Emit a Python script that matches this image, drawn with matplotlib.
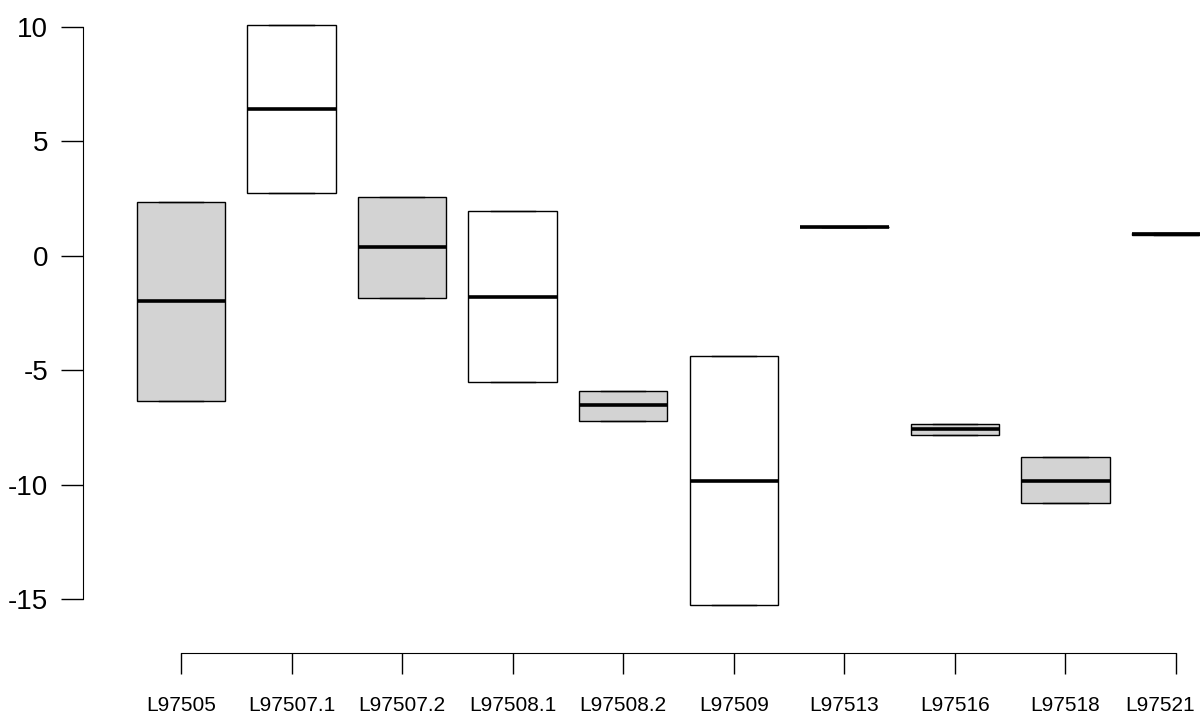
import matplotlib.pyplot as plt
import matplotlib.transforms as mtransforms

plt.rcParams['font.family'] = ['Liberation Sans', 'DejaVu Sans']

names = ['L97505', 'L97507.1', 'L97507.2', 'L97508.1', 'L97508.2',
         'L97509', 'L97513', 'L97516', 'L97518', 'L97521']
q1 = [-6.33, 2.75, -1.83, -5.50, -7.20, -15.24, 1.27, -7.82, -10.79, 0.92]
med = [-1.97, 6.42, 0.39, -1.79, -6.50, -9.83, 1.27, -7.55, -9.81, 0.97]
q3 = [2.36, 10.09, 2.58, 1.97, -5.90, -4.37, 1.27, -7.34, -8.79, 1.02]
fills = ['lightgray', 'white', 'lightgray', 'white', 'lightgray',
         'white', 'lightgray', 'lightgray', 'lightgray', 'lightgray']

stats = []
for i in range(len(names)):
    stats.append(dict(med=med[i], q1=q1[i], q3=q3[i],
                      whislo=q1[i], whishi=q3[i], fliers=[]))

fig = plt.figure(figsize=(12, 7.13), dpi=100)
ax = fig.add_axes([83 / 1200, 1 - 653 / 713, 1 - 83 / 1200, (653 - 2) / 713])

bp = ax.bxp(stats, positions=range(1, 11), widths=0.8, capwidths=0.4,
            patch_artist=True, showfliers=False,
            boxprops=dict(edgecolor='black', linewidth=1.0),
            medianprops=dict(color='black', linewidth=2.6, solid_capstyle='butt'),
            whiskerprops=dict(color='black', linewidth=1.0, linestyle='--'),
            capprops=dict(color='black', linewidth=1.0))
for patch, c in zip(bp['boxes'], fills):
    patch.set_facecolor(c)

ax.set_xlim(0.114, 10.217)
ax.set_ylim(-17.34, 11.09)
ax.set_xticks(range(1, 11))
ax.set_xticklabels(names, fontsize=15)
ax.set_yticks([-15, -10, -5, 0, 5, 10])
ax.set_yticklabels(['-15', '-10', '-5', '0', '5', '10'], fontsize=20)

for s in ['top', 'right']:
    ax.spines[s].set_visible(False)
ax.spines['left'].set_bounds(-15, 10)
ax.spines['bottom'].set_bounds(1, 10)
ax.tick_params(axis='y', length=16, width=1, pad=9)
ax.tick_params(axis='x', length=15, width=1, pad=16)

# last label sits a bit left of its tick, as in the original
last = ax.get_xticklabels()[-1]
last.set_transform(last.get_transform() +
                   mtransforms.ScaledTranslation(-0.16, 0, fig.dpi_scale_trans))

plt.savefig('out.png', dpi=100)
